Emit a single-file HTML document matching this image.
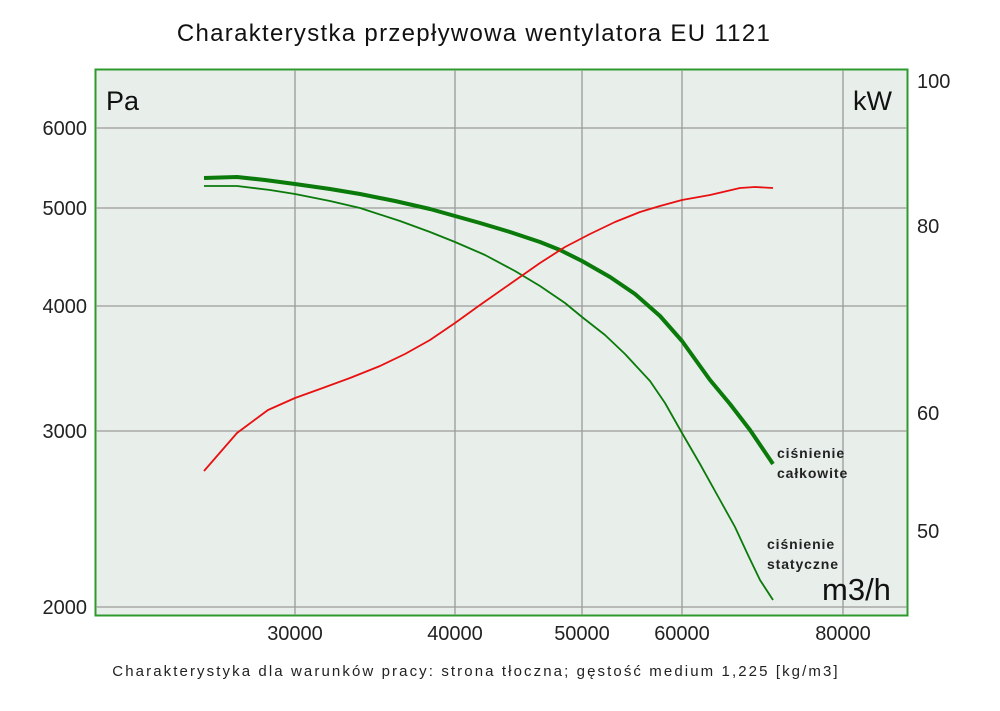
<!DOCTYPE html>
<html><head><style>
body{margin:0;background:#fff;}
svg text{font-family:"Liberation Sans","DejaVu Sans",sans-serif;}
</style></head><body>
<svg width="1000" height="706" xmlns="http://www.w3.org/2000/svg">
<rect width="1000" height="706" fill="#fff"/>
<text x="474" y="41" font-size="24" text-anchor="middle" fill="#111" letter-spacing="1.3">Charakterystka przepływowa wentylatora EU 1121</text>
<rect x="95.5" y="69.5" width="812" height="546" fill="#e8eeea" stroke="#2e9a2e" stroke-width="2"/>
<g stroke="#9a9a9a" stroke-width="1.3">
<line x1="295" y1="70" x2="295" y2="615"/><line x1="455" y1="70" x2="455" y2="615"/>
<line x1="582" y1="70" x2="582" y2="615"/><line x1="682" y1="70" x2="682" y2="615"/>
<line x1="843" y1="70" x2="843" y2="615"/>
<line x1="96" y1="128" x2="907" y2="128"/><line x1="96" y1="208" x2="907" y2="208"/>
<line x1="96" y1="306" x2="907" y2="306"/><line x1="96" y1="431" x2="907" y2="431"/>
<line x1="96" y1="607" x2="907" y2="607"/>
</g>
<g font-size="20" fill="#222" text-anchor="end">
<text x="87" y="135">6000</text><text x="87" y="215">5000</text><text x="87" y="313">4000</text>
<text x="87" y="438">3000</text><text x="87" y="614">2000</text>
</g>
<g font-size="20" fill="#222">
<text x="917" y="88">100</text><text x="917" y="233">80</text><text x="917" y="420">60</text><text x="917" y="538">50</text>
</g>
<g font-size="20" fill="#222" text-anchor="middle">
<text x="295" y="640">30000</text><text x="455" y="640">40000</text><text x="582" y="640">50000</text>
<text x="682" y="640">60000</text><text x="843" y="640">80000</text>
</g>
<text x="106" y="110" font-size="27" fill="#111">Pa</text>
<text x="853" y="110" font-size="27" fill="#111">kW</text>
<text x="822" y="600" font-size="31" fill="#111">m3/h</text>
<g font-size="14" font-weight="bold" fill="#222" letter-spacing="0.9">
<text x="777" y="458">ciśnienie</text><text x="777" y="478">całkowite</text>
<text x="767" y="549">ciśnienie</text><text x="767" y="569">statyczne</text>
</g>
<text x="476" y="676" font-size="15" text-anchor="middle" fill="#222" letter-spacing="2.1">Charakterystyka dla warunków pracy: strona tłoczna; gęstość medium 1,225 [kg/m3]</text>
<polyline fill="none" stroke="#0a7a0a" stroke-width="4" stroke-linejoin="round" points="204,178 237,177 265,180 295,184 330,189 360,194 395,201 430,209 455,216 480,223 510,232 540,242 560,250 582,261 610,277 635,294 660,316 682,341 710,380 730,404 750,430 773,464"/>
<polyline fill="none" stroke="#0a7a0a" stroke-width="1.8" stroke-linejoin="round" points="204,186 237,186 270,190 295,194 330,201 360,208 400,221 430,232 455,242 485,255 515,271 540,286 565,303 582,317 605,335 625,354 650,381 665,403 682,433 700,464 720,500 735,527 748,555 760,580 773,600"/>
<polyline fill="none" stroke="#e81010" stroke-width="1.8" stroke-linejoin="round" points="204,471 237,433 268,410 295,398 320,389 350,378 380,366 405,354 430,340 455,323 480,305 510,284 540,263 565,247 590,234 615,222 640,212 660,206 682,200 710,195 740,188 755,187 773,188"/>
</svg>
</body></html>
